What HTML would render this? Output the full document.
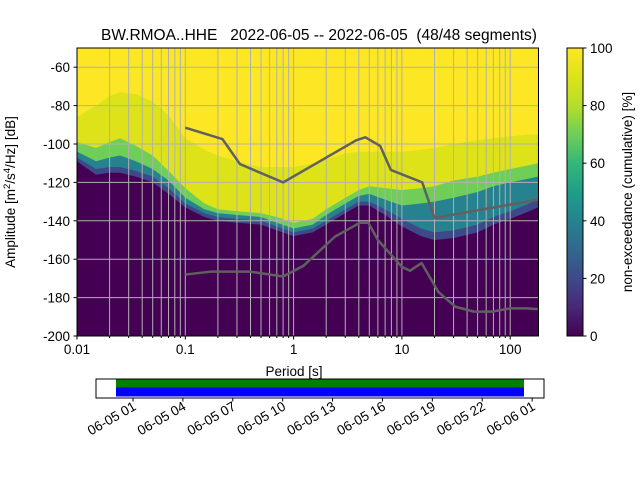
<!DOCTYPE html>
<html><head><meta charset="utf-8"><style>
body{margin:0;background:#fff;}
svg text{font-family:"Liberation Sans","DejaVu Sans",sans-serif;fill:#000;}
</style></head><body>
<svg id="chart" width="640" height="480" viewBox="0 0 640 480" xmlns="http://www.w3.org/2000/svg">
<defs>
<linearGradient id="vir" x1="0" y1="1" x2="0" y2="0">
<stop offset="0" stop-color="#440154"/><stop offset="0.1" stop-color="#482878"/><stop offset="0.2" stop-color="#3e4989"/><stop offset="0.3" stop-color="#31688e"/><stop offset="0.4" stop-color="#26828e"/><stop offset="0.5" stop-color="#1f9e89"/><stop offset="0.6" stop-color="#35b779"/><stop offset="0.7" stop-color="#6ece58"/><stop offset="0.8" stop-color="#b5de2b"/><stop offset="0.9" stop-color="#dde318"/><stop offset="1" stop-color="#fde725"/>
</linearGradient>
<clipPath id="pc"><rect x="77" y="48" width="461.5" height="288"/></clipPath>
</defs>
<text x="319" y="40" font-size="15.5" text-anchor="middle" xml:space="preserve">BW.RMOA..HHE&#160;&#160;&#160;2022-06-05 -- 2022-06-05&#160;&#160;(48/48 segments)</text>
<g id="plot" clip-path="url(#pc)"></g>
<g id="grid" clip-path="url(#pc)"></g>
<g id="lines" clip-path="url(#pc)"></g>
<rect x="77" y="48" width="461.5" height="288" fill="none" stroke="#000" stroke-width="1"/>
<g id="axes"></g>
<text x="294" y="376" font-size="13.5" text-anchor="middle">Period [s]</text>
<text transform="translate(15,192) rotate(-90)" font-size="13.5" text-anchor="middle">Amplitude [m<tspan font-size="9.5" dy="-5">2</tspan><tspan dy="5">/s</tspan><tspan font-size="9.5" dy="-5">4</tspan><tspan dy="5">/Hz] [dB]</tspan></text>
<rect x="567" y="48" width="16" height="288" fill="url(#vir)" stroke="#000" stroke-width="1"/>
<g id="cbax"></g>
<text transform="translate(632,192) rotate(-90)" font-size="13.5" text-anchor="middle">non-exceedance (cumulative) [%]</text>
<g id="timeline">
<rect x="96" y="379" width="448" height="19" fill="#fff" stroke="#000" stroke-width="1"/>
<rect x="116" y="379.5" width="408" height="8" fill="#008000"/>
<rect x="116" y="387.5" width="408" height="9" fill="#0000ff"/>
</g>
<g id="taxis"></g>
</svg>
<script>
const periods=[0.01,0.015,0.02,0.025,0.035,0.05,0.07,0.1,0.15,0.2,0.3,0.5,0.7,1,1.5,2,3,4,5,7,10,15,20,30,50,70,100,150,180];
const lvl0=[-109,-116,-115,-115,-117,-120,-126,-133,-138,-140,-141,-142,-145,-148,-146,-142,-136,-132,-132,-137,-143,-148,-150,-149,-146,-142,-139,-135,-133];
const lvl25=[-107,-113,-112,-112,-114,-117,-123,-131,-136,-138,-139,-140,-143,-146,-144,-140,-134,-130,-130,-134,-139,-144,-146,-145,-142,-138,-135,-131,-129];
const lvl50=[-104,-109,-107,-106,-109,-113,-119,-128,-134,-136,-137,-138,-141,-144,-142,-137,-131,-127,-126,-129,-132,-131,-130,-128,-125,-122,-120,-118,-117];
const lvl80=[-99,-102,-99,-97,-101,-106,-114,-123,-131,-134,-135,-136,-138,-141,-139,-134,-128,-124,-122,-123,-124,-123,-122,-119,-117,-115,-113,-111,-110];
const lvl100=[-86,-80,-75,-73,-74,-78,-85,-97,-103,-106,-109,-112,-112,-112,-110,-108,-105,-104,-104,-104,-104,-103,-102,-100,-98,-97,-96,-95,-95];
const highP=[0.1,0.22,0.32,0.8,3.8,4.6,6.3,7.9,15.4,20,180];
const highDB=[-91.5,-97.4,-110.5,-120,-98,-96.5,-101,-113.5,-120,-138.5,-129];
const lowP=[0.1,0.17,0.4,0.8,1.23,2.4,4.1,4.9,6.0,10,11.9,15.2,21.7,31,46,68,100,142,180];
const lowDB=[-168,-166.5,-166.5,-169,-163.5,-148.3,-141,-141,-150,-164,-166,-162,-177,-184.7,-187.3,-187.3,-185.6,-185.6,-186];
const yTicks=[-60,-80,-100,-120,-140,-160,-180,-200];
const xTicks=[0.01,0.1,1,10,100];
const xTickLabels=["0.01","0.1","1","10","100"];
const cbTicks=[0,20,40,60,80,100];
const timeLabels=["06-05 01","06-05 04","06-05 07","06-05 10","06-05 13","06-05 16","06-05 19","06-05 22","06-06 01"];
const timeHours=[1,4,7,10,13,16,19,22,25];

const NS="http://www.w3.org/2000/svg";
function X(p){return 77+(Math.log10(p)+2)*108.3;}
function Y(db){return 48+(-50-db)*1.92;}
function T(h){return 133+(h-1)*16.63;}
function mk(tag,attrs,parent){const e=document.createElementNS(NS,tag);for(const k in attrs)e.setAttribute(k,attrs[k]);parent.appendChild(e);return e;}
const plot=document.getElementById('plot');
const bg=mk('rect',{x:77,y:48,width:462,height:288,fill:'#440154'},plot);


const bands=[[lvl0,'#3e4989','band-0'],[lvl25,'#26828e','band-25'],[lvl50,'#6ece58','band-50'],[lvl80,'#dde318','band-80'],[lvl100,'#fde725','band-100']];
bands.forEach(b=>{
  let d='M'+X(periods[0])+','+48;
  periods.forEach((p,i)=>{d+=' L'+X(p)+','+Y(b[0][i]);});
  d+=' L'+X(periods[periods.length-1])+',48 Z';
  const e=mk('path',{d:d,fill:b[1]},plot);
  
  
});
const grid=document.getElementById('grid');
for(let dec=-2;dec<=2;dec++){for(let m=1;m<=9;m++){const p=m*Math.pow(10,dec);if(p>190)break;
  const g=mk('line',{x1:X(p),x2:X(p),y1:48,y2:336,stroke:'#b0b0b0','stroke-width':1},grid);
  
  }}
yTicks.forEach(v=>{const g=mk('line',{x1:77,x2:539,y1:Y(v),y2:Y(v),stroke:'#b0b0b0','stroke-width':1},grid);
  
  });
const lines=document.getElementById('lines');
function poly(P,D,name){const pts=P.map((p,i)=>X(p)+','+Y(D[i])).join(' ');
  const e=mk('polyline',{points:pts,fill:'none',stroke:'#606060','stroke-width':2.5,'stroke-linejoin':'round'},lines);
  
  }
poly(highP,highDB,'nhnm-line');poly(lowP,lowDB,'nlnm-line');
const axes=document.getElementById('axes');
xTicks.forEach((p,i)=>{mk('line',{x1:X(p),x2:X(p),y1:336,y2:339.5,stroke:'#000'},axes);
  const t=mk('text',{x:X(p),y:354,'font-size':13.5,'text-anchor':'middle'},axes);t.textContent=xTickLabels[i];
  
  });
for(let dec=-2;dec<=2;dec++){for(let m=2;m<=9;m++){const p=m*Math.pow(10,dec);if(p>180)break;mk('line',{x1:X(p),x2:X(p),y1:336,y2:338,stroke:'#000'},axes);}}
yTicks.forEach(v=>{mk('line',{x1:73.5,x2:77,y1:Y(v),y2:Y(v),stroke:'#000'},axes);
  const t=mk('text',{x:70,y:Y(v)+5,'font-size':13.5,'text-anchor':'end'},axes);t.textContent=v;
  
  });
const cb=document.getElementById('cbax');
cbTicks.forEach(v=>{const y=336-v*2.88;mk('line',{x1:583,x2:586.5,y1:y,y2:y,stroke:'#000'},cb);
  const t=mk('text',{x:590,y:y+5,'font-size':13.5},cb);t.textContent=v;
  
  });
const ta=document.getElementById('taxis');
timeHours.forEach((h,i)=>{const x=T(h);mk('line',{x1:x,x2:x,y1:398,y2:401.5,stroke:'#000'},ta);
  const t=mk('text',{transform:'translate('+(x+4)+',409) rotate(-30)','font-size':13.5,'text-anchor':'end'},ta);t.textContent=timeLabels[i];
  
  });
</script>
</body></html>
